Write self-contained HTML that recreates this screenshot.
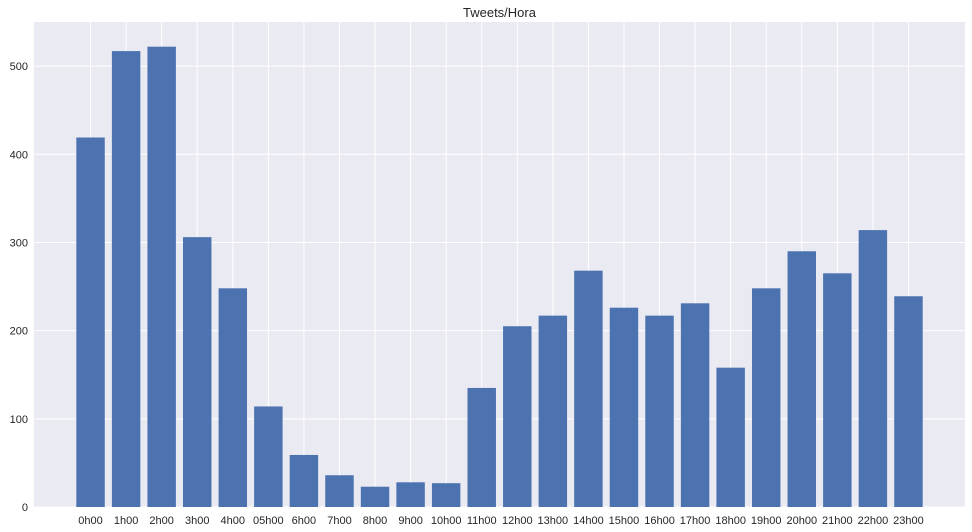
<!DOCTYPE html>
<html><head><meta charset="utf-8"><style>
html,body{margin:0;padding:0;background:#fff;}
svg{display:block;font-family:"Liberation Sans","DejaVu Sans",sans-serif;}
</style></head><body>
<svg id="chart" width="972" height="532"></svg>
<script>
const categories=["0h00","1h00","2h00","3h00","4h00","05h00","6h00","7h00","8h00","9h00","10h00","11h00","12h00","13h00","14h00","15h00","16h00","17h00","18h00","19h00","20h00","21h00","22h00","23h00"];
const tweetCounts=[419,517,522,306,248,114,59,36,23,28,27,135,205,217,268,226,217,231,158,248,290,265,314,239];
const yTicks=[0,100,200,300,400,500];
const chartTitle="Tweets/Hora";

const NS="http://www.w3.org/2000/svg";
const svg=document.getElementById('chart');
const L=34,R=965,T=22,B=507;
const xMin=-1.59,xMax=24.59,yMin=0,yMax=550;
const xs=v=>L+(v-xMin)/(xMax-xMin)*(R-L);
const ys=v=>B-(v-yMin)/(yMax-yMin)*(B-T);
function mk(tag,attrs){const e=document.createElementNS(NS,tag);for(const k in attrs)e.setAttribute(k,attrs[k]);svg.appendChild(e);return e;}

const bg=mk('rect',{x:L,y:T,width:R-L,height:B-T,fill:'#EAEAF2'});



yTicks.forEach(t=>{
  const g=mk('line',{x1:L,x2:R,y1:ys(t),y2:ys(t),stroke:'#fff','stroke-width':1});
  
  
  const lb=mk('text',{x:L-6,y:ys(t)+4,'text-anchor':'end','font-size':11,fill:'#262626'});
  lb.textContent=t;
  
  
});
categories.forEach((c,i)=>{
  const g=mk('line',{x1:xs(i),x2:xs(i),y1:T,y2:B,stroke:'#fff','stroke-width':1});
  
  
});
categories.forEach((c,i)=>{
  const v=tweetCounts[i];
  const r=mk('rect',{x:xs(i-0.4),y:ys(v),width:xs(i+0.4)-xs(i-0.4),height:ys(0)-ys(v),fill:'#4C72B0'});
  
  
  const lb=mk('text',{x:xs(i),y:B+17,'text-anchor':'middle','font-size':11,fill:'#262626'});
  lb.textContent=c;
  
  
});
const tt=mk('text',{x:(L+R)/2,y:T-5,'text-anchor':'middle','font-size':13,fill:'#262626'});
tt.textContent=chartTitle;


</script>
</body></html>
